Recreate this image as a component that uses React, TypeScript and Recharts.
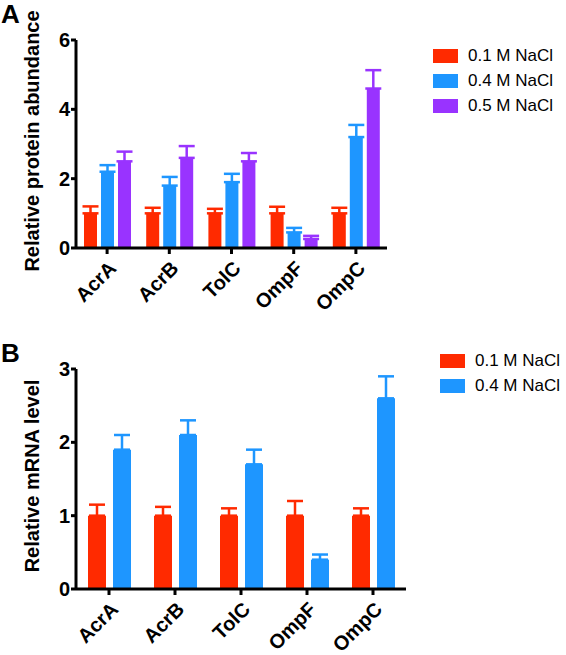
import React from 'react'
import { BarChart, Bar, XAxis, YAxis, ErrorBar, Legend } from 'recharts'

// gene names on the x axis
const categories = ['AcrA', 'AcrB', 'TolC', 'OmpF', 'OmpC']

// panel A: relative protein abundance (mean, upper SD)
const protein01 = [1.0, 1.0, 1.0, 1.0, 1.0]
const protein01Err = [0.2, 0.16, 0.13, 0.19, 0.16]
const protein04 = [2.2, 1.8, 1.9, 0.45, 3.2]
const protein04Err = [0.19, 0.25, 0.24, 0.13, 0.35]
const protein05 = [2.5, 2.6, 2.5, 0.26, 4.6]
const protein05Err = [0.28, 0.34, 0.24, 0.09, 0.53]
const proteinTicks = [0, 2, 4, 6]

// panel B: relative mRNA level
const mrna01 = [1.0, 1.0, 1.0, 1.0, 1.0]
const mrna01Err = [0.15, 0.12, 0.1, 0.2, 0.1]
const mrna04 = [1.9, 2.1, 1.7, 0.4, 2.6]
const mrna04Err = [0.2, 0.2, 0.2, 0.07, 0.3]
const mrnaTicks = [0, 1, 2, 3]

const RED = '#FF2A00'
const BLUE = '#1E96FF'
const PURPLE = '#9933FF'
const FONT = 'Arial, "Liberation Sans", sans-serif'

const proteinData = categories.map((name, i) => ({
  name,
  low: protein01[i],
  lowErr: [0, protein01Err[i]],
  mid: protein04[i],
  midErr: [0, protein04Err[i]],
  high: protein05[i],
  highErr: [0, protein05Err[i]],
}))

const mrnaData = categories.map((name, i) => ({
  name,
  low: mrna01[i],
  lowErr: [0, mrna01Err[i]],
  mid: mrna04[i],
  midErr: [0, mrna04Err[i]],
}))

function XTick({ x, y, payload }: any) {
  return (
    <g transform={`translate(${x + 2},${y + 5})`}>
      <text
        x={0}
        y={12}
        transform="rotate(-45)"
        textAnchor="end"
        fontFamily={FONT}
        fontWeight="bold"
        fontSize={20}
        fill="#000"
      >
        {payload.value}
      </text>
    </g>
  )
}

function YLabel({ viewBox, text }: any) {
  const cy = viewBox ? viewBox.y + viewBox.height / 2 : 150
  return (
    <text
      x={0}
      y={0}
      transform={`translate(39,${cy - 3}) rotate(-90)`}
      textAnchor="middle"
      fontFamily={FONT}
      fontWeight="bold"
      fontSize={20}
      fill="#000"
    >
      {text}
    </text>
  )
}

// absolutely placed so the legend takes no room from the plot
function LegendBox({ payload }: any) {
  return (
    <div style={{ position: 'absolute', left: 0, top: 0 }}>
      {(payload || []).map((p: any) => (
        <div key={p.value} style={{ display: 'flex', alignItems: 'center', height: 25 }}>
          <div style={{ width: 25, height: 14, background: p.color, marginRight: 10 }} />
          <span style={{ fontFamily: FONT, fontSize: 17, color: '#000', whiteSpace: 'nowrap' }}>{p.value}</span>
        </div>
      ))}
    </div>
  )
}

const axisLine = { stroke: '#000', strokeWidth: 3 }
const tickLine = { stroke: '#000', strokeWidth: 3 }
const yTick = { fontFamily: FONT, fontWeight: 'bold', fontSize: 20, fill: '#000' }

export default function App() {
  return (
    <div style={{ position: 'absolute', left: 0, top: 0, width: 566, height: 655, background: '#fff' }}>
      <div style={{ position: 'absolute', left: 1, top: 1, lineHeight: '26px', fontFamily: FONT, fontWeight: 'bold', fontSize: 26 }}>A</div>
      <div style={{ position: 'absolute', left: 1, top: 340, lineHeight: '26px', fontFamily: FONT, fontWeight: 'bold', fontSize: 26 }}>B</div>

      <div style={{ position: 'absolute', left: 0, top: 0 }}>
        <BarChart
          width={566}
          height={320}
          data={proteinData}
          margin={{ top: 40, right: 179, left: 0, bottom: 12 }}
          barSize={13}
          barGap={4}
        >
          <XAxis
            dataKey="name"
            height={60}
            axisLine={axisLine}
            tickLine={tickLine}
            tickSize={6}
            tick={<XTick />}
            interval={0}
          />
          <YAxis
            width={76}
            domain={[0, 6]}
            ticks={proteinTicks}
            axisLine={axisLine}
            tickLine={tickLine}
            tickSize={5}
            tickMargin={1}
            tick={yTick}
            label={<YLabel text="Relative protein abundance" />}
          />
          <Legend
            verticalAlign="top"
            align="left"
            wrapperStyle={{ position: 'absolute', left: 433, top: 43, width: 140 }}
            content={(props: any) => <LegendBox {...props} />}
          />
          <Bar dataKey="low" name="0.1 M NaCl" fill={RED} isAnimationActive={false}>
            <ErrorBar dataKey="lowErr" width={8} strokeWidth={2.5} stroke={RED} direction="y" />
          </Bar>
          <Bar dataKey="mid" name="0.4 M NaCl" fill={BLUE} isAnimationActive={false}>
            <ErrorBar dataKey="midErr" width={8} strokeWidth={2.5} stroke={BLUE} direction="y" />
          </Bar>
          <Bar dataKey="high" name="0.5 M NaCl" fill={PURPLE} isAnimationActive={false}>
            <ErrorBar dataKey="highErr" width={8} strokeWidth={2.5} stroke={PURPLE} direction="y" />
          </Bar>
        </BarChart>
      </div>

      <div style={{ position: 'absolute', left: 0, top: 330 }}>
        <BarChart
          width={566}
          height={325}
          data={mrnaData}
          margin={{ top: 39, right: 160, left: 0, bottom: 6 }}
          barSize={18}
          barGap={7}
        >
          <XAxis
            dataKey="name"
            height={60}
            axisLine={axisLine}
            tickLine={tickLine}
            tickSize={6}
            tick={<XTick />}
            interval={0}
          />
          <YAxis
            width={76}
            domain={[0, 3]}
            ticks={mrnaTicks}
            axisLine={axisLine}
            tickLine={tickLine}
            tickSize={5}
            tickMargin={1}
            tick={yTick}
            label={<YLabel text="Relative mRNA level" />}
          />
          <Legend
            verticalAlign="top"
            align="left"
            wrapperStyle={{ position: 'absolute', left: 440, top: 18, width: 140 }}
            content={(props: any) => <LegendBox {...props} />}
          />
          <Bar dataKey="low" name="0.1 M NaCl" fill={RED} isAnimationActive={false}>
            <ErrorBar dataKey="lowErr" width={8} strokeWidth={2.5} stroke={RED} direction="y" />
          </Bar>
          <Bar dataKey="mid" name="0.4 M NaCl" fill={BLUE} isAnimationActive={false}>
            <ErrorBar dataKey="midErr" width={8} strokeWidth={2.5} stroke={BLUE} direction="y" />
          </Bar>
        </BarChart>
      </div>
    </div>
  )
}
